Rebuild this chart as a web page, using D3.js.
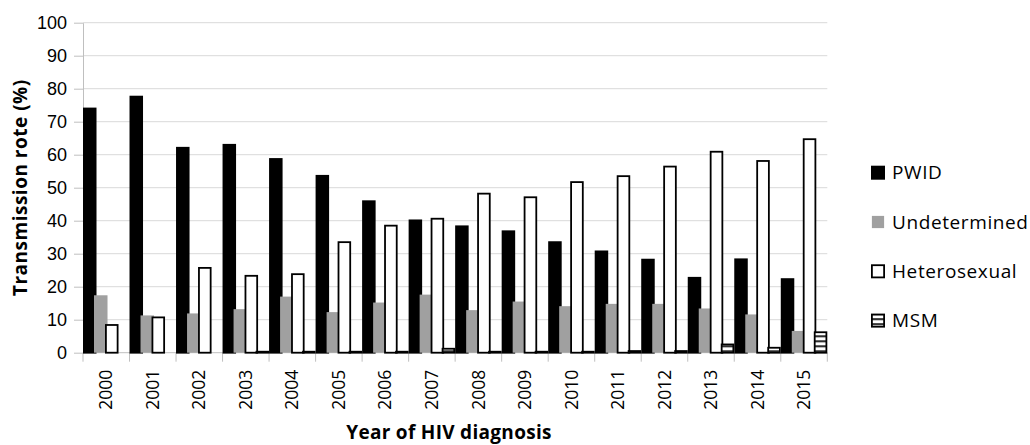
<!DOCTYPE html>
<html>
<head>
<meta charset="utf-8">
<script src="https://cdn.jsdelivr.net/npm/d3@7"></script>
<style>
	body { margin: 0; background: #fff; }
	svg { display: block; font-family: "Open Sans", sans-serif; }
	.axis text { font-size: 18px; fill: #000; }
	.x.axis text { font-size: 17.5px; }
	.axis line, .axis path { stroke: #bfbfbf; }
	.grid line { stroke: #d9d9d9; }
	.title { font-size: 19px; font-weight: bold; }
	.legend text { font-size: 19px; letter-spacing: 0.6px; }
</style>
</head>
<body>
<div id="chart"></div>
<script>
var years = ["2000","2001","2002","2003","2004","2005","2006","2007","2008","2009","2010","2011","2012","2013","2014","2015"];
var seriesNames = ["PWID", "Undetermined", "Heterosexual", "MSM"];
var pwid = [74, 77.6, 62.1, 63, 58.7, 53.6, 45.9, 40.1, 38.3, 36.8, 33.5, 30.7, 28.2, 22.7, 28.3, 22.3];
var undetermined = [17.4, 11.3, 11.9, 13.2, 17, 12.3, 15.2, 17.6, 12.9, 15.5, 14.1, 14.8, 14.8, 13.4, 11.6, 6.6];
var heterosexual = [8.4, 10.7, 25.7, 23.3, 23.8, 33.5, 38.5, 40.6, 48.2, 47.1, 51.7, 53.5, 56.4, 60.9, 58.1, 64.7];
var msm = [0, 0, 0, 0.3, 0.3, 0.3, 0.3, 1.2, 0.3, 0.3, 0.3, 0.5, 0.5, 2.5, 1.5, 6.2];
var yTicks = [0, 10, 20, 30, 40, 50, 60, 70, 80, 90, 100];

var W = 1030, H = 445;
var margin = {top: 22.7, right: 202.7, bot: 92.3, left: 83};
var w = W - margin.left - margin.right, h = H - margin.top - margin.bot;

var values = [pwid, undetermined, heterosexual, msm];
var fills = ["#000", "#a0a0a0", "#fff", "url(#msmPat)"];
var strokes = ["#000", "none", "#000", "#000"];
var overlap = 2.5;

var svg = d3.select("#chart").append("svg").attr("width", W).attr("height", H);

var defs = svg.append("defs");
var pat = defs.append("pattern").attr("id", "msmPat").attr("patternUnits", "userSpaceOnUse")
	.attr("width", 10).attr("height", 5).attr("y", margin.top + h);
pat.append("rect").attr("width", 10).attr("height", 5).attr("fill", "#fff");
pat.append("rect").attr("width", 10).attr("height", 1.7).attr("fill", "#000");

var g = svg.append("g").attr("transform", "translate(" + margin.left + "," + margin.top + ")");

var xSc = d3.scaleBand().domain(years).range([0, w]);
var x1 = d3.scaleBand().domain(seriesNames).range([0, xSc.bandwidth() - overlap]);
var ySc = d3.scaleLinear().domain([0, 100]).range([h, 0]);

// gridlines
g.append("g").attr("class", "grid").selectAll("line")
	.data(yTicks.slice(1)).enter().append("line")
	.attr("x1", 0).attr("x2", w)
	.attr("y1", function(d) { return ySc(d); }).attr("y2", function(d) { return ySc(d); });

// y axis
var yAxis = d3.axisLeft(ySc).tickValues(yTicks).tickSize(9).tickSizeOuter(0).tickPadding(7);
g.append("g").attr("class", "y axis").call(yAxis);

// x axis: ticks between categories
var xAxG = g.append("g").attr("class", "x axis").attr("transform", "translate(0," + h + ")");
xAxG.append("line").attr("x1", 0).attr("x2", w);
xAxG.selectAll(".sep").data(years.concat(["end"])).enter().append("line").attr("class", "sep")
	.attr("x1", function(d, i) { return i < years.length ? xSc(d) : w; })
	.attr("x2", function(d, i) { return i < years.length ? xSc(d) : w; })
	.attr("y1", 0).attr("y2", 9);
xAxG.selectAll("text").data(years).enter().append("text")
	.attr("transform", function(d) { return "translate(" + (xSc(d) + xSc.bandwidth() / 2) + ",17) rotate(-90)"; })
	.attr("text-anchor", "end").attr("dy", "0.35em").text(function(d) { return d; });

// bars
seriesNames.forEach(function(s, si) {
	g.append("g").selectAll("rect").data(values[si]).enter().append("rect")
		.attr("x", function(d, i) { return xSc(years[i]) + x1(s) + (strokes[si] === "none" ? 0 : 0.9); })
		.attr("y", function(d) { return ySc(d); })
		.attr("width", x1.bandwidth() + overlap - (strokes[si] === "none" ? 0 : 1.8))
		.attr("height", function(d) { return Math.max(0, h - ySc(d)); })
		.attr("fill", fills[si])
		.attr("stroke", function(d) { return d > 0 ? strokes[si] : "none"; })
		.attr("stroke-width", 1.8);
});

// axis titles
svg.append("text").attr("class", "title").attr("text-anchor", "middle")
	.style("letter-spacing", "0.5px")
	.attr("transform", "translate(27," + (margin.top + h / 2) + ") rotate(-90)")
	.text("Transmission rote (%)");
svg.append("text").attr("class", "title").attr("text-anchor", "middle")
	.style("letter-spacing", "0.3px")
	.attr("x", 449).attr("y", 439).text("Year of HIV diagnosis");

// legend
var legend = svg.append("g").attr("class", "legend");
var lg = legend.selectAll("g").data(seriesNames).enter().append("g")
	.attr("transform", function(d, i) { return "translate(871," + (172.7 + i * 49.3) + ")"; });
lg.append("rect").attr("x", 0.9).attr("y", -6.1).attr("width", 12.2).attr("height", 12.2)
	.attr("fill", function(d, i) { return fills[i]; })
	.attr("stroke", function(d, i) { return strokes[i]; }).attr("stroke-width", 1.8);
lg.append("text").attr("x", 21).attr("dy", "0.35em").text(function(d) { return d; });
</script>
</body>
</html>
